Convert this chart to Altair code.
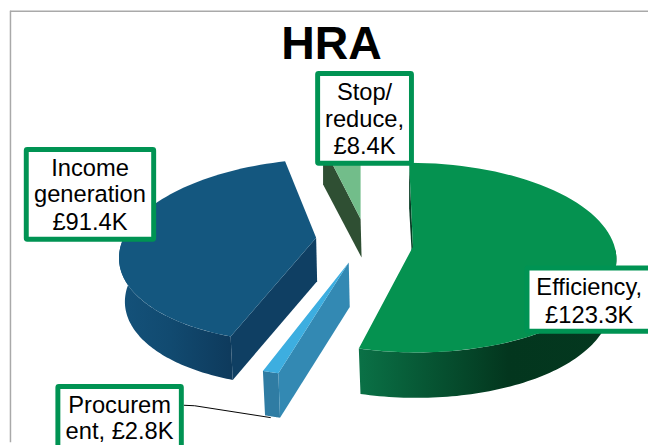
import altair as alt
import numpy as np

# ---- data ----
categories = ["Efficiency", "Procurement", "Income generation", "Stop/reduce"]
values = [123.3, 2.8, 91.4, 8.4]
title_text = ["HRA"]
label_lines = [
    ["Efficiency,", "£123.3K"],
    ["Procurem", "ent, £2.8K"],
    ["Income", "generation", "£91.4K"],
    ["Stop/", "reduce,", "£8.4K"],
]

FONT = "Liberation Sans"
GREEN = "#009353"

# pie sweep angles come from the values, clockwise from 12 o'clock
total = sum(values)
edges = np.concatenate([[0], np.cumsum(values)]) / total * 2 * np.pi

# perspective parameters of each exploded slice
geom = {
    "Efficiency":        dict(cx=418, cy=258, a=206, b=96, s=0.04, apex=(418, 247), depth=46, shrink=6),
    "Procurement":       dict(cx=354, cy=284, a=216, b=95, s=-0.12, apex=(353, 263), depth=45, shrink=6),
    "Income generation": dict(cx=319, cy=251, a=198, b=93, s=-0.17, apex=(320, 238), depth=44, shrink=6),
    "Stop/reduce":       dict(cx=365, cy=218, a=164, b=75, s=0.0, apex=(365, 219), depth=39, shrink=0),
}


def pt(g, th, low=False):
    yo = -g["b"] * np.cos(th)
    a = g["a"] - (g["shrink"] if low else 0)
    return [g["cx"] + a * np.sin(th) + g["s"] * yo, g["cy"] + yo + (g["depth"] if low else 0)]


def arc(g, t0, t1, low=False):
    return [pt(g, t, low) for t in np.linspace(t0, t1, 80)]


def apex(g, low=False):
    x, y = g["apex"]
    return [x + (1 if low else 0), y + (g["depth"] if low else 0)]


def poly(points, fill):
    ring = [[float(x), float(y)] for x, y in points]
    ring.append(ring[0])
    feature = {"type": "Feature", "properties": {}, "geometry": {"type": "Polygon", "coordinates": [ring]}}
    return alt.Chart(alt.Data(values=[feature])).mark_geoshape(fill=fill, strokeWidth=0).project(
        type="identity", scale=1, translate=[-8, -8]
    )


def grad(stops):
    return alt.LinearGradient(
        gradient="linear", x1=0, x2=1, y1=0, y2=0,
        stops=[alt.GradientStop(color=c, offset=o) for c, o in stops],
    )


def top_face(g, t0, t1, fill):
    return poly([apex(g)] + arc(g, t0, t1), fill)


def outer_wall(g, t0, t1, fill):
    return poly(arc(g, t0, t1) + arc(g, t0, t1, True)[::-1], fill)


def radial_wall(g, t, fill):
    return poly([apex(g), pt(g, t), pt(g, t, True), apex(g, True)], fill)


layers = []

# Stop/reduce
g = geom["Stop/reduce"]
layers += [radial_wall(g, edges[3], "#2f4f33"), top_face(g, edges[3], edges[4], "#72bd8a")]

# Income generation
g = geom["Income generation"]
layers += [
    outer_wall(g, edges[2], np.radians(285), grad([("#14527a", 0), ("#114a70", 0.45), ("#0e3a5c", 1)])),
    radial_wall(g, edges[2], "#0f3f63"),
    top_face(g, edges[2], edges[3], "#14577f"),
]

# Procurement
g = geom["Procurement"]
layers += [
    outer_wall(g, edges[1], edges[2], "#2f7ca3"),
    radial_wall(g, edges[1], "#3389b3"),
    top_face(g, edges[1], edges[2], "#3daee0"),
]

# Efficiency
g = geom["Efficiency"]
layers += [
    radial_wall(g, edges[0], "#063d24"),
    outer_wall(g, np.radians(85), edges[1], grad([("#0a7146", 0), ("#03361e", 0.58), ("#04381f", 1)])),
    top_face(g, edges[0], edges[1], "#059250"),
]

one = alt.Data(values=[{"k": 0}])


def box(x0, x1, y0, y1):
    return alt.Chart(one).mark_rect(fill="white", stroke=GREEN, strokeWidth=5, cornerRadius=1).encode(
        x=alt.value(x0 - 8), x2=alt.value(x1 - 8), y=alt.value(y0 - 8), y2=alt.value(y1 - 8)
    )


def text(s, x, y, size=24, weight="normal"):
    return alt.Chart(alt.Data(values=[{"t": s}])).mark_text(
        font=FONT, fontSize=size, fontWeight=weight, color="black", align="center", baseline="alphabetic"
    ).encode(text="t:N", x=alt.value(x - 8), y=alt.value(y - 8))


def rule(x0, y0, x1, y1, color, width):
    return alt.Chart(one).mark_rule(color=color, strokeWidth=width).encode(
        x=alt.value(x0 - 8), y=alt.value(y0 - 8), x2=alt.value(x1 - 8), y2=alt.value(y1 - 8)
    )


# frame
layers += [
    rule(10, 8.5, 656, 8.5, "#a9a9a9", 1.5),
    rule(10.5, 8, 10.5, 445, "#a9a9a9", 1.5),
]

# leader line
layers += [
    rule(186, 407.5, 197, 408, "black", 1),
    rule(197, 408, 274, 420, "black", 1),
]

# label boxes
layers += [
    box(533.5, 664, 268.5, 332.5),
    box(58.5, 183.5, 388.5, 460),
    box(26.5, 155.5, 148.5, 239.5),
    box(321.5, 416.5, 71.5, 162.5),
]

# labels
positions = [
    (596.5, [296, 324]),
    (121, [415, 442]),
    (91, [175, 202, 230]),
    (369, [98, 126, 153]),
]
for lines, (x, ys) in zip(label_lines, positions):
    for s, y in zip(lines, ys):
        layers.append(text(s, x, y))

layers.append(text(title_text[0], 335.5, 57, size=47, weight="bold"))

chart = alt.layer(*layers).properties(
    width=648, height=437, padding=0, autosize=alt.AutoSizeParams(type="none"), background="white"
).configure_view(stroke=None)

chart.save("out.html", embed_options={"renderer": "svg", "actions": False})
